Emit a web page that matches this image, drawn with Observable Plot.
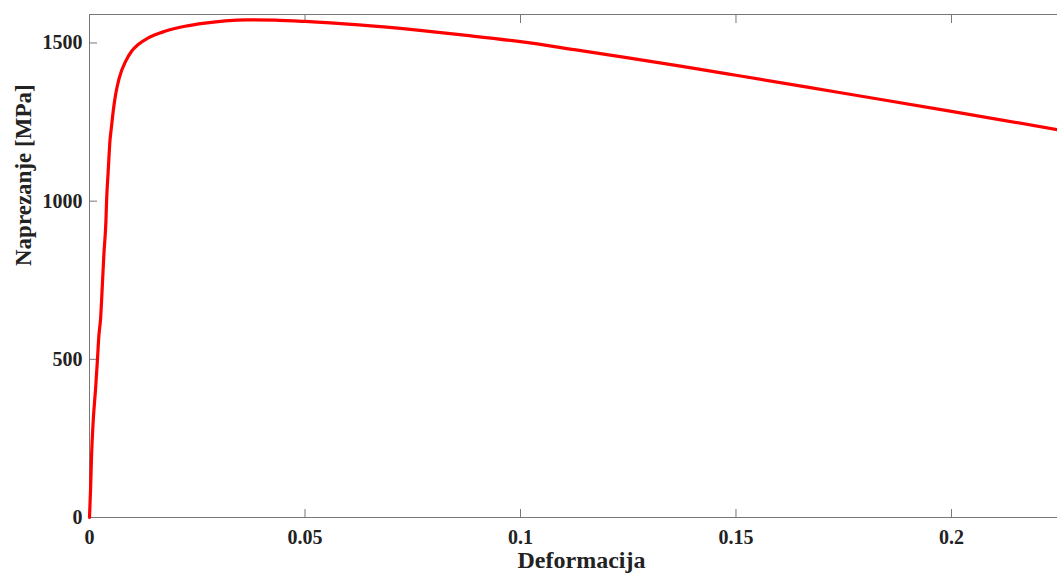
<!DOCTYPE html>
<html><head><meta charset="utf-8">
<script src="https://cdn.jsdelivr.net/npm/d3@7"></script>
<script src="https://cdn.jsdelivr.net/npm/@observablehq/plot@0.6"></script>
<style>body{margin:0;background:#fff;overflow:hidden}</style>
</head><body><div id="chart"></div>
<script>
const strain = [0, 0.00026, 0.00049, 0.00086, 0.00142, 0.00185, 0.00215, 0.00258, 0.00295, 0.00334, 0.00381, 0.00397, 0.00434, 0.00474, 0.0051, 0.0055, 0.00606, 0.00689, 0.00838, 0.00977, 0.0113, 0.01363, 0.0175, 0.02215, 0.0268, 0.0315, 0.0365, 0.043, 0.05, 0.0625, 0.075, 0.0875, 0.1, 0.1125, 0.125, 0.1375, 0.15, 0.175, 0.2, 0.2246];
const stress = [0, 94, 200, 305, 409, 500, 570, 630, 726, 832, 937, 1003, 1095, 1190, 1235, 1284, 1337, 1389, 1442, 1474, 1495, 1516, 1537, 1553, 1563, 1570, 1573, 1572, 1568, 1557, 1542, 1524, 1504, 1479, 1453, 1426, 1398, 1341, 1284, 1226];
const xTicks = [0, 0.05, 0.1, 0.15, 0.2];
const yTicks = [0, 500, 1000, 1500];
const xLabel = "Deformacija";
const yLabel = "Naprezanje [MPa]";

const data = strain.map((x, i) => ({x, y: stress[i]}));
const axisColor = "#777";
const textColor = "#222";

const chart = Plot.plot({
  width: 1057, height: 574,
  marginLeft: 89, marginRight: 0, marginTop: 14, marginBottom: 57,
  x: {domain: [0, 0.2246]},
  y: {domain: [0, 1590]},
  style: {fontFamily: "'Liberation Serif', 'Times New Roman', serif", background: "#fff", color: textColor},
  marks: [
    Plot.frame({anchor: "top", stroke: axisColor}),
    Plot.frame({anchor: "bottom", stroke: axisColor}),
    Plot.frame({anchor: "left", stroke: axisColor}),
    // inward tick marks
    Plot.axisX(xTicks, {anchor: "bottom", tickSize: 8, dy: -8, stroke: axisColor, tickFormat: () => "", label: null}),
    Plot.axisX(xTicks, {anchor: "top", tickSize: 8, dy: 8, stroke: axisColor, tickFormat: () => "", label: null}),
    Plot.axisY(yTicks, {anchor: "left", tickSize: 8, dx: 8, stroke: axisColor, tickFormat: () => "", label: null}),
    // tick labels
    Plot.axisX(xTicks, {anchor: "bottom", tickSize: 0, tickPadding: 12, fontSize: 20, fontWeight: "bold", fill: textColor, tickFormat: d => String(d), label: null}),
    Plot.axisY(yTicks, {anchor: "left", tickSize: 0, tickPadding: 7, fontSize: 20, fontWeight: "bold", fill: textColor, tickFormat: d => String(d), label: null}),
    // axis titles
    Plot.text([xLabel], {frameAnchor: "bottom", dy: 50, dx: 8, fontSize: 24, fontWeight: "bold", fill: textColor, text: d => d}),
    Plot.text([yLabel], {frameAnchor: "left", dx: -66, rotate: -90, fontSize: 23, fontWeight: "bold", fill: textColor, text: d => d}),
    Plot.line(data, {x: "x", y: "y", stroke: "#f00", strokeWidth: 3.2, curve: "monotone-x"})
  ]
});
document.getElementById("chart").append(chart);
</script>
</body></html>
